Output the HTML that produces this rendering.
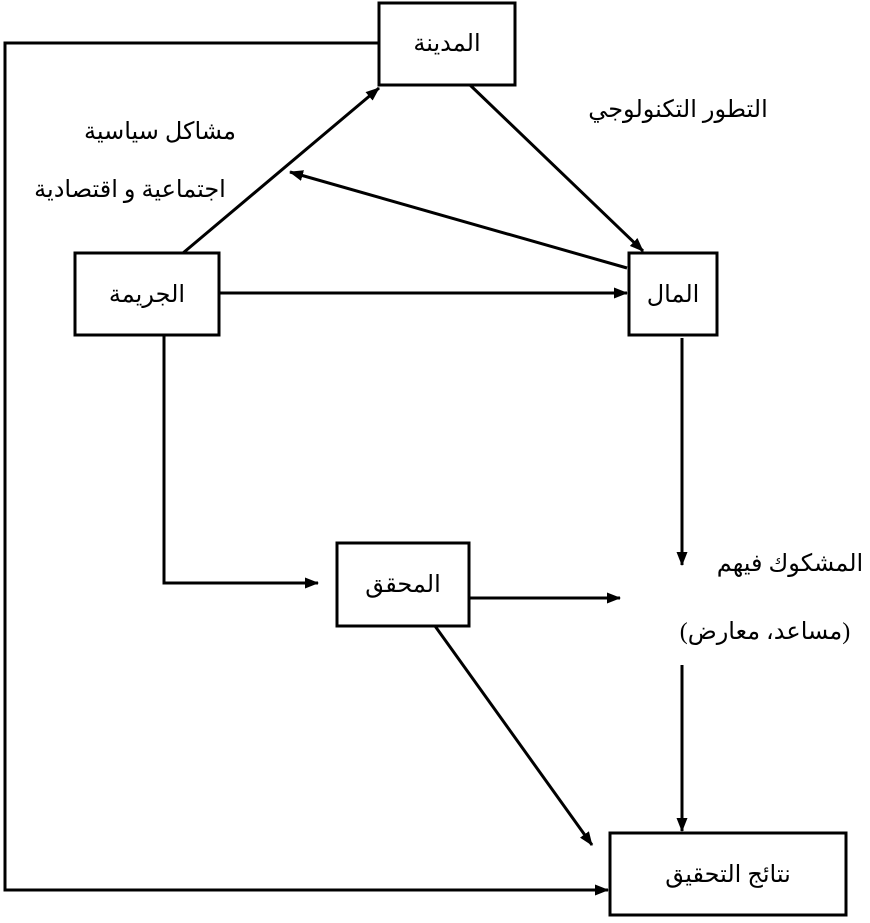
<!DOCTYPE html>
<html><head><meta charset="utf-8"><style>
html,body{margin:0;padding:0;background:#fff;}
svg{display:block;}
text{font-family:"Liberation Serif","DejaVu Sans",serif;font-size:24px;fill:#000;}
</style></head><body>
<svg width="870" height="923" viewBox="0 0 870 923" xmlns="http://www.w3.org/2000/svg">
<defs><marker id="a" markerWidth="14" markerHeight="11" refX="13" refY="5.5" orient="auto" markerUnits="userSpaceOnUse"><path d="M0,0 L14,5.5 L0,11 z" fill="#000"/></marker></defs>
<g fill="none" stroke="#000" stroke-width="3">
<rect x="379" y="3" width="136" height="82"/>
<rect x="75" y="253" width="144" height="82"/>
<rect x="629" y="253" width="88" height="82"/>
<rect x="337" y="543" width="132" height="83"/>
<rect x="610" y="833" width="236" height="82"/>
<polyline points="379,43 5,43 5,890 608,890" marker-end="url(#a)"/>
<line x1="183" y1="253" x2="379" y2="88" marker-end="url(#a)"/>
<line x1="470" y1="85" x2="643" y2="251" marker-end="url(#a)"/>
<line x1="627" y1="268" x2="290" y2="172" marker-end="url(#a)"/>
<line x1="219" y1="293" x2="627" y2="293" marker-end="url(#a)"/>
<polyline points="164,335 164,583 318,583" marker-end="url(#a)"/>
<line x1="469" y1="598" x2="620" y2="598" marker-end="url(#a)"/>
<line x1="682" y1="338" x2="682" y2="565" marker-end="url(#a)"/>
<line x1="682" y1="665" x2="682" y2="831" marker-end="url(#a)"/>
<line x1="435" y1="626" x2="592" y2="845" marker-end="url(#a)"/>
</g>
<g text-anchor="middle" direction="rtl">
<text x="447" y="51">المدينة</text>
<text x="147" y="302">الجريمة</text>
<text x="673" y="302">المال</text>
<text x="403" y="592">المحقق</text>
<text x="728" y="882">نتائج التحقيق</text>
<text x="160" y="139">مشاكل سياسية</text>
<text x="130" y="197">اجتماعية و اقتصادية</text>
<text x="678" y="117">التطور التكنولوجي</text>
<text x="790" y="571">المشكوك فيهم</text>
<text x="765" y="639">(مساعد، معارض)</text>
</g>
</svg>
</body></html>
